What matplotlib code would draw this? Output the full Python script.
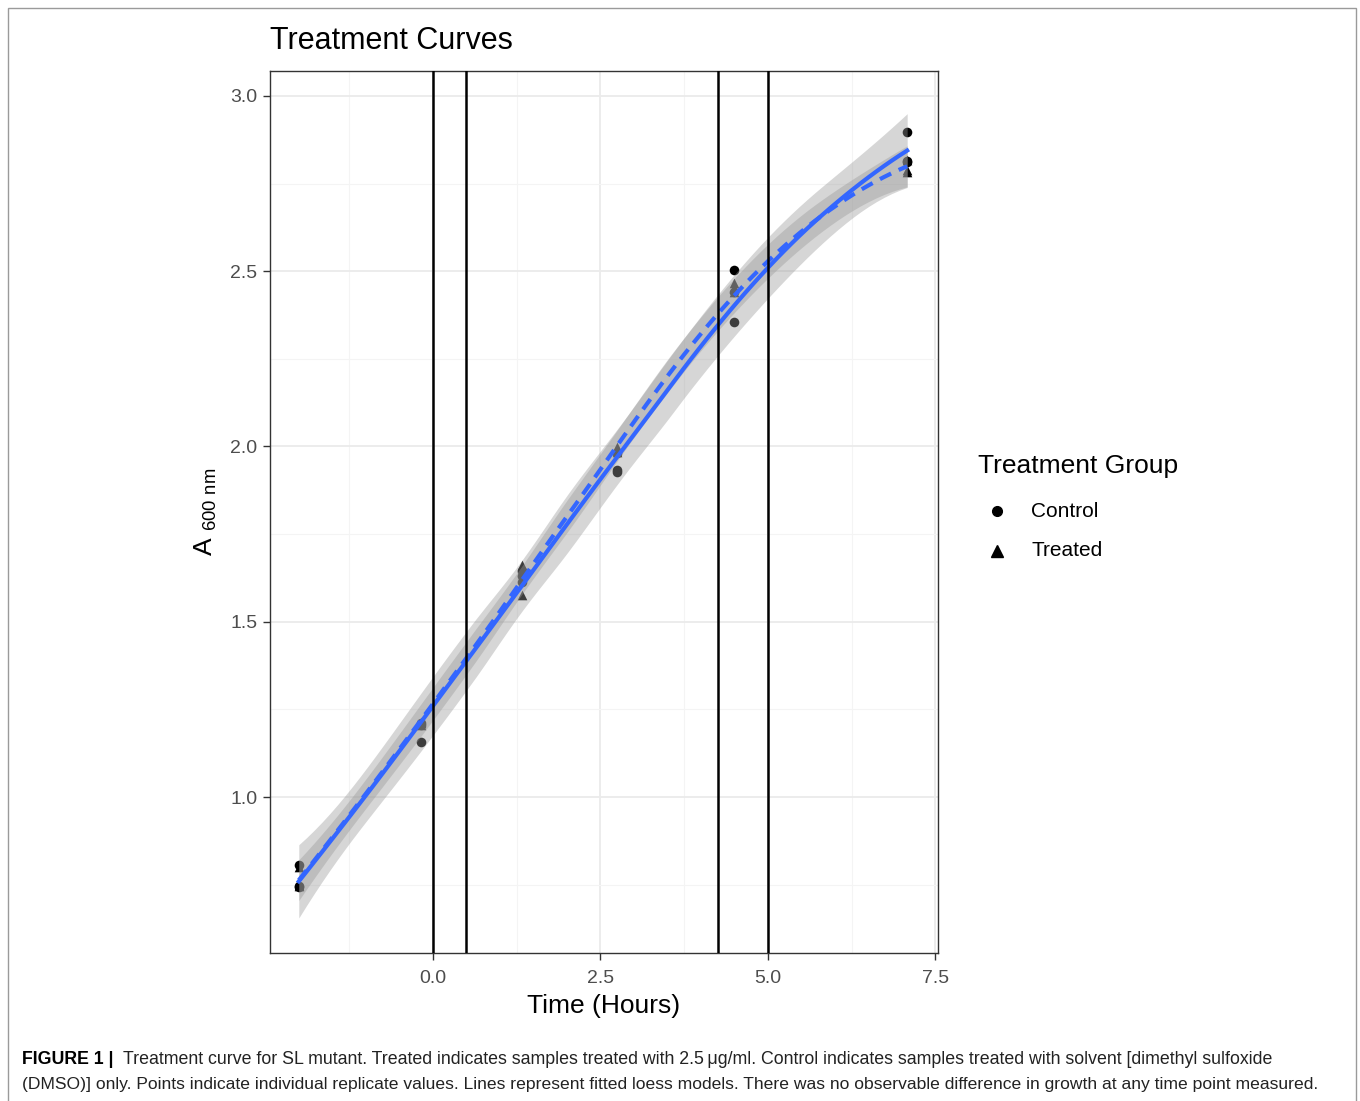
import numpy as np
import matplotlib
matplotlib.use("Agg")
import matplotlib.pyplot as plt
from matplotlib.lines import Line2D
from matplotlib.patches import Rectangle

plt.rcParams['font.family'] = ['Liberation Sans', 'DejaVu Sans']

# replicate measurements (time in hours, A600)
times = [-2.0, -0.17, 1.33, 2.75, 4.5, 7.08]
control_a600 = [
    [0.806, 0.745, 0.742],
    [1.211, 1.157, 1.205],
    [1.612, 1.645, 1.630],
    [1.981, 1.927, 1.932],
    [2.504, 2.355, 2.440],
    [2.897, 2.815, 2.810],
]
treated_a600 = [
    [0.800, 0.745, 0.750],
    [1.205, 1.212, 1.215],
    [1.662, 1.645, 1.576],
    [1.999, 1.985, 1.990],
    [2.467, 2.440, 2.452],
    [2.817, 2.783, 2.790],
]
treatment_marks = [0.0, 0.5, 4.25, 5.0]
x_ticks = [0.0, 2.5, 5.0, 7.5]
y_ticks = [1.0, 1.5, 2.0, 2.5, 3.0]

# R's approximate loess statistics give a wider interval than the exact trace
BAND_SCALE = 1.75


def local_rows(x, x0, q):
    # local quadratic fit with tricube weights -> rows giving value and slope at x0
    n = len(x)
    d = np.abs(x - x0)
    h = np.sort(d)[q - 1] * 1.0001
    w = np.clip(1 - (d / h) ** 3, 0, None) ** 3
    X = np.column_stack([np.ones(n), x - x0, (x - x0) ** 2])
    XtW = X.T * w
    B = np.linalg.solve(XtW @ X, XtW)
    return B[0], B[1]


def loess(x, y, xs, span=0.75):
    # loess with vertex + cubic hermite interpolation (like R's surface="interpolate")
    n = len(x)
    q = int(np.floor(n * span))
    ux = np.unique(x)
    marg = 0.005 * (ux[-1] - ux[0])
    verts = np.concatenate([[ux[0] - marg], (ux[:-1] + ux[1:]) / 2, [ux[-1] + marg]])
    V, S = zip(*[local_rows(x, v, q) for v in verts])
    V, S = np.array(V), np.array(S)

    def op(pts):
        rows = []
        for p in pts:
            k = min(max(np.searchsorted(verts, p) - 1, 0), len(verts) - 2)
            dv = verts[k + 1] - verts[k]
            t = (p - verts[k]) / dv
            h00 = 2 * t ** 3 - 3 * t ** 2 + 1
            h10 = t ** 3 - 2 * t ** 2 + t
            h01 = -2 * t ** 3 + 3 * t ** 2
            h11 = t ** 3 - t ** 2
            rows.append(h00 * V[k] + h10 * dv * S[k] + h01 * V[k + 1] + h11 * dv * S[k + 1])
        return np.array(rows)

    L = op(x)
    Ls = op(xs)
    fit = Ls @ y
    R = np.eye(n) - L
    RtR = R.T @ R
    d1 = np.trace(RtR)
    d2 = np.trace(RtR @ RtR)
    sigma = np.sqrt(np.sum((R @ y) ** 2) / d1)
    se = sigma * np.sqrt(np.sum(Ls ** 2, axis=1)) * BAND_SCALE
    df = d1 ** 2 / d2
    z = 1.959964
    t = z + (z ** 3 + z) / (4 * df) + (5 * z ** 5 + 16 * z ** 3 + 3 * z) / (96 * df ** 2)
    return fit, fit - t * se, fit + t * se


fig = plt.figure(figsize=(13.6, 11.01), dpi=100)
ax = fig.add_axes([270 / 1360, 1 - 953 / 1101, 668 / 1360, 882 / 1101])

groups = [("Control", control_a600, 'o', '-'), ("Treated", treated_a600, '^', '--')]
for name, vals, marker, ls in groups:
    xx = np.repeat(times, 3)
    yy = np.array(vals).ravel()
    ax.scatter(xx, yy, marker=marker, s=48, color='black', zorder=2, linewidths=0)
    xs = np.linspace(xx.min(), xx.max(), 80)
    fit, lo, hi = loess(xx, yy, xs)
    ax.fill_between(xs, lo, hi, color='#999999', alpha=0.4, linewidth=0, zorder=3)
    if ls == '--':
        ax.plot(xs, fit, color='#3366FF', lw=3, dashes=(3, 2), zorder=4)
    else:
        ax.plot(xs, fit, color='#3366FF', lw=3, zorder=4)

for v in treatment_marks:
    ax.axvline(v, color='black', lw=1.8, zorder=5)

ax.set_xlim(-2.43, 7.54)
ax.set_ylim(0.555, 3.071)
ax.set_xticks(x_ticks)
ax.set_xticklabels([f"{v:.1f}" for v in x_ticks])
ax.set_yticks(y_ticks)
ax.set_yticklabels([f"{v:.1f}" for v in y_ticks])
ax.set_xticks([-1.25, 1.25, 3.75, 6.25], minor=True)
ax.set_yticks([0.75, 1.25, 1.75, 2.25, 2.75], minor=True)
ax.grid(True, which='major', color='#EBEBEB', lw=1.3, zorder=0)
ax.grid(True, which='minor', color='#F4F4F4', lw=0.8, zorder=0)
ax.set_axisbelow(True)
ax.tick_params(which='major', length=5, width=1, color='#333333',
               labelsize=14, labelcolor='#4D4D4D')
ax.tick_params(axis='x', which='major', pad=7)
ax.tick_params(axis='y', which='major', pad=4)
ax.tick_params(which='minor', length=0)
for s in ax.spines.values():
    s.set_color('#333333')
    s.set_linewidth(1)

ax.set_xlabel("Time (Hours)", fontsize=19, labelpad=5)
ax.set_ylabel(r"A $_{\mathregular{600\ nm}}$", fontsize=19, labelpad=8)
fig.text(270 / 1360, 1 - 41 / 1101, "Treatment Curves", fontsize=22, va='center', ha='left')

# legend drawn by hand for exact placement
fig.text(978 / 1360, 1 - 466 / 1101, "Treatment Group", fontsize=19, va='center', ha='left')
for i, (name, vals, marker, ls) in enumerate(groups):
    yy = 1 - (511 + 40 * i) / 1101
    fig.add_artist(Line2D([997 / 1360], [yy], transform=fig.transFigure, marker=marker,
                          ls='none', color='black', markersize=7 if marker == 'o' else 8))
    fig.text(1031 / 1360, yy, name, fontsize=15, va='center', ha='left')

fig.text(22 / 1360, 1 - 1060 / 1101, "FIGURE 1 |", fontsize=12.8, fontweight='bold', va='center')
fig.text(123 / 1360, 1 - 1060 / 1101,
         "Treatment curve for SL mutant. Treated indicates samples treated with 2.5\u2009\u03bcg/ml. "
         "Control indicates samples treated with solvent [dimethyl sulfoxide",
         fontsize=12.8, va='center', color='#222222')
fig.text(22 / 1360, 1 - 1085 / 1101,
         "(DMSO)] only. Points indicate individual replicate values. Lines represent fitted loess models. "
         "There was no observable difference in growth at any time point measured.",
         fontsize=12.6, va='center', color='#222222')

fig.patches.append(Rectangle((8 / 1360, -0.01), 1348 / 1360, (1101 - 8) / 1101 + 0.01,
                             transform=fig.transFigure, fill=False, edgecolor='#9A9A9A', lw=1))

fig.savefig("out.png", dpi=100)
